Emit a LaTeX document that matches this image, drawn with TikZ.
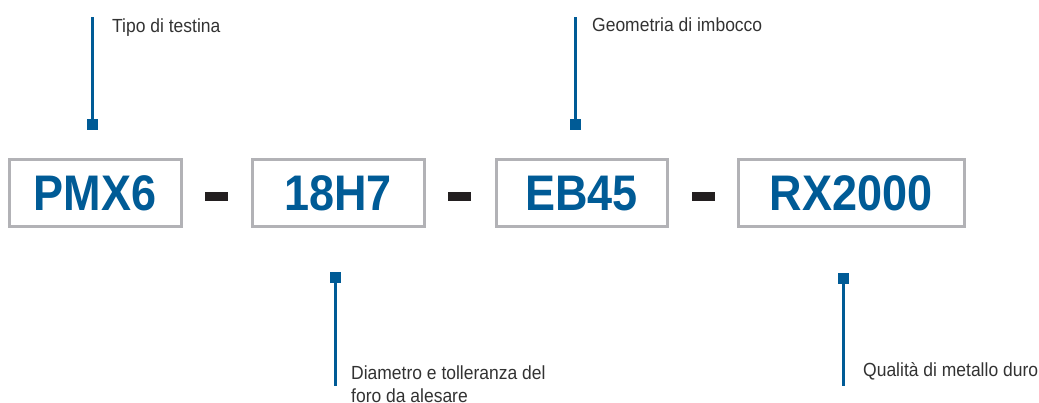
\documentclass[tikz,border=0pt]{standalone}
\usepackage{fontspec}
\setmainfont{Liberation Sans}
\newfontfamily\codefont[FakeStretch=0.9]{Liberation Sans}
\newfontfamily\labelfont[FakeStretch=0.92]{Liberation Sans}

\definecolor{codeblue}{RGB}{0,91,150}
\definecolor{boxgray}{RGB}{178,178,182}
\definecolor{dashblack}{RGB}{35,31,32}
\definecolor{labelgray}{RGB}{50,50,50}

\tikzset{
  codebox/.style={draw=boxgray, line width=3pt, fill=white, minimum height=67pt,
    inner sep=0pt, text=codeblue, font=\codefont\fontsize{50}{50}\selectfont\bfseries},
  dashbar/.style={fill=dashblack, minimum width=23pt, minimum height=9pt, inner sep=0pt},
  pinsquare/.style={fill=codeblue, minimum size=11pt, inner sep=0pt},
  leader/.style={draw=codeblue, line width=3pt},
  labeltext/.style={anchor=base west, inner sep=0pt, text=labelgray,
    font=\labelfont\fontsize{19}{23}\selectfont}
}

\begin{document}
\begin{tikzpicture}[x=1pt, y=-1pt]
  \useasboundingbox (0,0) rectangle (1039,403);

  % Code boxes
  \foreach \id/\cx/\w/\code in {pmx/95/172/PMX6, dia/338/172/18H7, geo/581.5/171/EB45, grade/851/226/RX2000} {
    \node[codebox, minimum width=\w pt] (\id) at (\cx, 193.5) {\code};
  }

  % Dashes between the boxes
  \foreach \id/\cx in {dash1/216.5, dash2/459.5, dash3/703.5} {
    \node[dashbar] (\id) at (\cx, 196.5) {};
  }

  % Leaders above
  \node[pinsquare] (sqpmx) at (92, 125) {};
  \coordinate (endpmx) at (92, 17);
  \draw[leader] (sqpmx) -- (endpmx);
  \node[labeltext] (lblpmx) at (112, 33) {Tipo di testina};

  \node[pinsquare] (sqgeo) at (575.5, 124.5) {};
  \coordinate (endgeo) at (575.5, 17);
  \draw[leader] (sqgeo) -- (endgeo);
  \node[labeltext] (lblgeo) at (592, 32) {Geometria di imbocco};

  % Leaders below
  \node[pinsquare] (sqdia) at (335.5, 277.5) {};
  \coordinate (enddia) at (335.5, 386);
  \draw[leader] (sqdia) -- (enddia);
  \node[labeltext] (lbldia) at (351, 379) {Diametro e tolleranza del};
  \node[labeltext] (lbldiab) at (351, 402) {foro da alesare};

  \node[pinsquare] (sqgrade) at (843.5, 278.5) {};
  \coordinate (endgrade) at (843.5, 386);
  \draw[leader] (sqgrade) -- (endgrade);
  \node[labeltext] (lblgrade) at (863, 377) {Qualità di metallo duro};
\end{tikzpicture}
\end{document}
